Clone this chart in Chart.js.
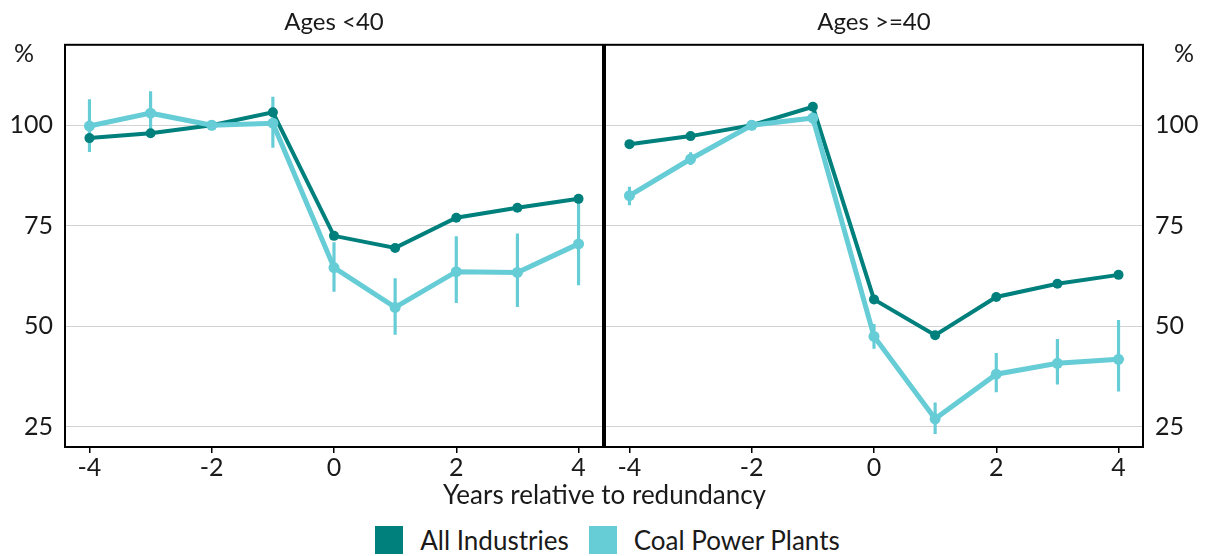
<!DOCTYPE html>
<html>
<head>
<meta charset="utf-8">
<script src="https://cdn.jsdelivr.net/npm/chart.js@4"></script>
<style>
  body { margin: 0; background: #fff; font-family: Lato, sans-serif; color: #1a1a1a; }
  #wrap { position: relative; width: 1209px; height: 556px; }
  #leftBox { position: absolute; left: 0; top: 0; }
  #rightBox { position: absolute; left: 602px; top: 0; }
  #xtitle { position: absolute; left: 0; width: 1209px; top: 479px; text-align: center; font-size: 26px; line-height: 30px; }
  #legend { position: absolute; left: 3px; width: 1209px; top: 526px; display: flex; justify-content: center; align-items: center; font-size: 26px; line-height: 28px; }
  .sw { width: 28px; height: 28px; margin-right: 17px; }
  .item { display: flex; align-items: center; margin: 0 10px; }
</style>
</head>
<body>
<div id="wrap">
  <div id="leftBox"><canvas id="leftCanvas" width="606" height="480"></canvas></div>
  <div id="rightBox"><canvas id="rightCanvas" width="607" height="480"></canvas></div>
  <div id="xtitle">Years relative to redundancy</div>
  <div id="legend">
    <div class="item"><div class="sw" style="background:#00807d"></div>All Industries</div>
    <div class="item"><div class="sw" style="background:#66ccd6"></div>Coal Power Plants</div>
  </div>
</div>
<script>
const years = [-4, -3, -2, -1, 0, 1, 2, 3, 4]
const xTicks = [-4, -2, 0, 2, 4]
const yTicks = [25, 50, 75, 100]

// Ages <40
const youngAll = [96.8, 98.0, 100, 103.2, 72.5, 69.5, 77, 79.5, 81.7]
const youngCoal = [99.8, 103, 100, 100.5, 64.6, 54.7, 63.6, 63.4, 70.5]
const youngCoalLo = [93.4, 97, null, 94.5, 58.7, 48, 55.9, 54.9, 60.3]
const youngCoalHi = [106.4, 108.4, null, 107, 70.8, 61.9, 72.3, 73, 82]

// Ages >=40
const oldAll = [95.3, 97.3, 100, 104.6, 56.7, 47.8, 57.3, 60.6, 62.8]
const oldCoal = [82.5, 91.6, 100, 101.8, 47.5, 27, 38.1, 40.8, 41.8]
const oldCoalLo = [80.2, 90.2, null, 100.3, 44.5, 23.3, 33.7, 35.6, 33.9]
const oldCoalHi = [84.6, 93.2, null, 103.3, 50.5, 31, 43.3, 46.8, 51.5]

const dark = '#00807d'
const light = '#66ccd6'
const textColor = '#1a1a1a'
const font = { family: 'Lato', size: 25 }

// box round the plot area + the % unit label
const framePlugin = {
  id: 'frame',
  afterDraw(chart, args, opts) {
    const { ctx, chartArea } = chart
    ctx.save()
    ctx.strokeStyle = '#000'
    ctx.lineWidth = 2
    ctx.strokeRect(chartArea.left, chartArea.top, chartArea.right - chartArea.left, chartArea.bottom - chartArea.top)
    ctx.fillStyle = textColor
    ctx.font = '25px Lato'
    ctx.textAlign = 'center'
    ctx.textBaseline = 'middle'
    const x = opts.side === 'left' ? chartArea.left - 41 : chartArea.right + 41
    ctx.fillText('%', x, chartArea.top + 9)
    ctx.restore()
  }
}

function makeChart(id, title, all, coal, lo, hi, side) {
  const bars = []
  years.forEach((x, i) => {
    if (lo[i] != null) bars.push({ x: x, y: [lo[i], hi[i]] })
  })
  return new Chart(document.getElementById(id), {
    type: 'line',
    data: {
      datasets: [
        {
          label: 'Coal Power Plants',
          data: years.map((x, i) => ({ x: x, y: coal[i] })),
          borderColor: light,
          backgroundColor: light,
          borderWidth: 5,
          pointRadius: 5.5,
          pointBorderWidth: 0,
          order: 0
        },
        {
          label: 'All Industries',
          data: years.map((x, i) => ({ x: x, y: all[i] })),
          borderColor: dark,
          backgroundColor: dark,
          borderWidth: 4,
          pointRadius: 5,
          pointBorderWidth: 0,
          order: 1
        },
        {
          type: 'bar',
          label: 'range',
          data: bars,
          backgroundColor: light,
          barThickness: 2.5,
          grouped: false,
          borderWidth: 0,
          order: 2
        }
      ]
    },
    options: {
      responsive: false,
      animation: false,
      events: [],
      layout: {
        autoPadding: false,
        padding: side === 'left' ? { left: 0, right: 3, top: 0, bottom: 0 } : { left: 3, right: 0, top: 0, bottom: 0 }
      },
      plugins: {
        legend: { display: false },
        tooltip: { enabled: false },
        title: {
          display: true,
          text: title,
          fullSize: false,
          color: textColor,
          font: { family: 'Lato', size: 24, weight: 'normal' },
          padding: { top: 8, bottom: 8 }
        },
        frame: { side: side }
      },
      scales: {
        x: {
          type: 'linear',
          min: -4.4,
          max: 4.4,
          offset: false,
          afterBuildTicks: s => { s.ticks = xTicks.map(v => ({ value: v })) },
          afterFit: s => { s.height = 33; s.paddingLeft = 0; s.paddingRight = 0 },
          ticks: { color: textColor, font: font, padding: 0, maxRotation: 0, callback: v => String(v) },
          grid: { offset: false, drawOnChartArea: false, drawTicks: true, tickLength: 6, color: '#000', lineWidth: 1.5 },
          border: { display: false }
        },
        y: {
          position: side,
          min: 20,
          max: 120,
          afterBuildTicks: s => { s.ticks = yTicks.map(v => ({ value: v })) },
          afterFit: s => { s.width = side === 'left' ? 65 : 66 },
          ticks: { color: textColor, font: font, padding: 12 },
          grid: { drawTicks: false, color: '#d3d3d3', lineWidth: 1 },
          border: { display: false }
        }
      }
    },
    plugins: [framePlugin]
  })
}

makeChart('leftCanvas', 'Ages <40', youngAll, youngCoal, youngCoalLo, youngCoalHi, 'left')
makeChart('rightCanvas', 'Ages >=40', oldAll, oldCoal, oldCoalLo, oldCoalHi, 'right')
</script>
</body>
</html>
